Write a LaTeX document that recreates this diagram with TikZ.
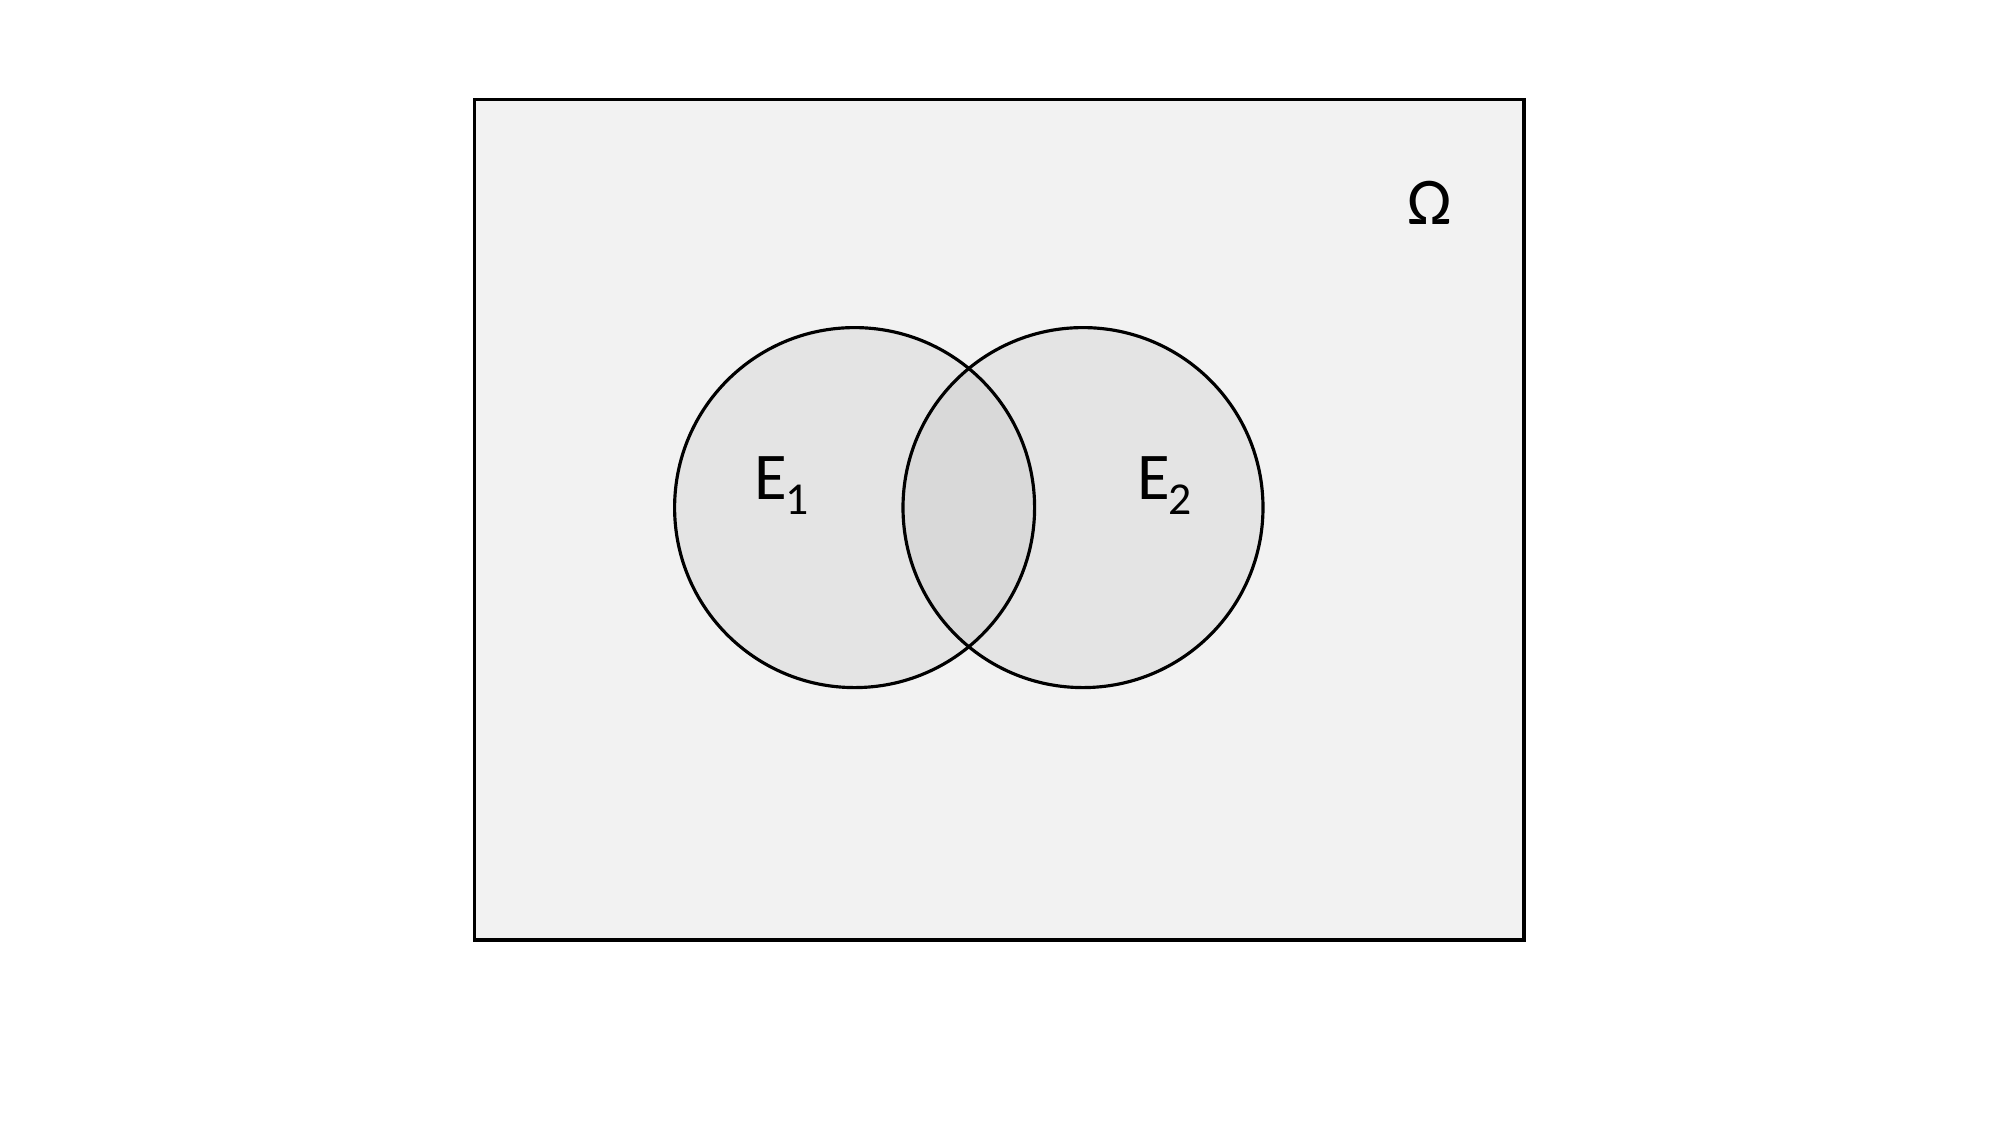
\documentclass[tikz,border=0pt]{standalone}
\usepackage{fontspec}
\setmainfont{Carlito}
\newcommand{\setsub}[1]{\kern-0.5pt\raisebox{-4pt}{\fontsize{13}{13}\selectfont #1}}
\definecolor{omegagray}{HTML}{F2F2F2}
\definecolor{setgray}{HTML}{E4E4E4}
\definecolor{bothgray}{HTML}{D9D9D9}
\begin{document}
\begin{tikzpicture}[line width=0.9pt,
	label/.style={inner sep=0pt, anchor=base west, font=\fontsize{19}{23}\selectfont}]
		\useasboundingbox (0,0) rectangle (20,11.25);
		% sample space
		\draw [black, fill=omegagray] (4.745,1.85) rectangle (15.24,10.255);
		\node [label] (omega) at (14.06,9.0) {Ω};
		% the two events
		\coordinate (c1) at (8.546,6.174);
		\coordinate (c2) at (10.83,6.174);
		\fill [setgray] (c1) circle (1.8);
		\fill [setgray] (c2) circle (1.8);
		\begin{scope}
			\clip (c1) circle (1.8);
			\fill [bothgray] (c2) circle (1.8);
		\end{scope}
		\draw [black] (c1) circle (1.8);
		\draw [black] (c2) circle (1.8);
		\node [label] (e1) at (7.53,6.25) {E\setsub{1}};
		\node [label] (e2) at (11.36,6.25) {E\setsub{2}};
\end{tikzpicture}
\end{document}
